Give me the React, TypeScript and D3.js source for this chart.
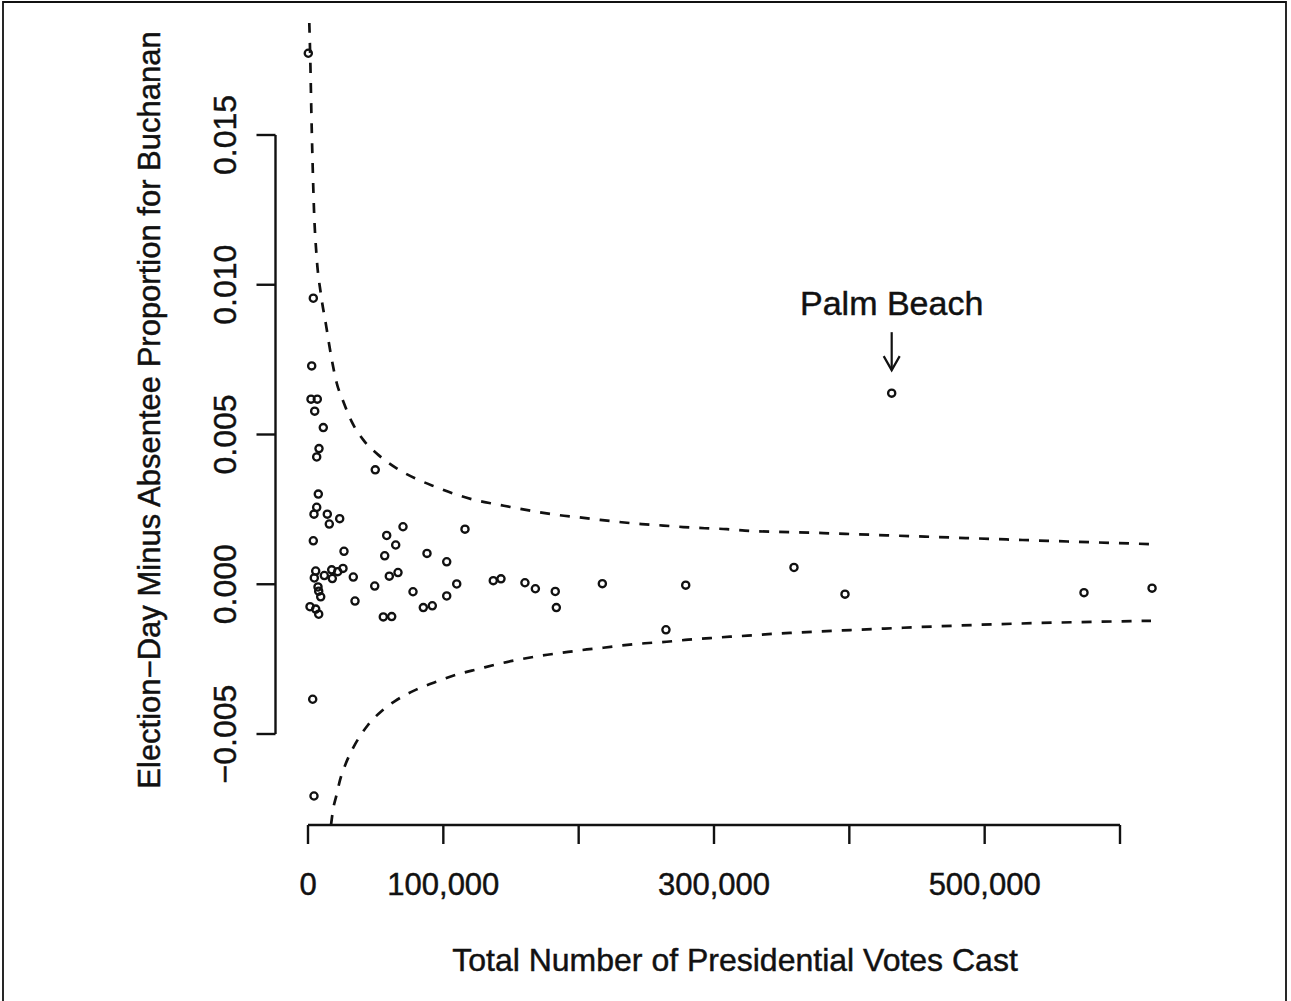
import React from "react";
import * as d3 from "d3";

// County totals (votes cast) and election-day minus absentee proportion for Buchanan
const votes: number[] = [
  220, 3920, 2730, 2220, 6870, 4950, 11300, 8130, 6430, 49700,
  7610, 6430, 4430, 14260, 15740, 23420, 70200, 116000, 3920, 58150,
  64800, 26600, 56680, 87930, 102500, 5690, 4660, 12050, 17510, 17960,
  21950, 25860, 33470, 60080, 66500, 136900, 142600, 49300, 7390, 7910,
  9390, 34730, 77590, 109900, 102500, 1480, 5690, 7910, 55640, 61850,
  85200, 91850, 160300, 168000, 182700, 183500, 217500, 264500, 279100, 359100,
  396800, 431300, 573400, 623700, 3470, 4430,
];
const propDiff: number[] = [
  0.01773, 0.00955, 0.00729, 0.00618, 0.00618, 0.00578, 0.00523, 0.00453, 0.00425, 0.00382,
  0.00301, 0.00257, 0.00234, 0.00234, 0.00201, 0.00219, 0.00192, 0.00184, 0.00145, 0.00163,
  0.00131, 0.0011, 0.00095, 0.00103, 0.00075, 0.00044, 0.00021, 0.00029, 0.00048, 0.00019,
  0.00042, 0.00053, 0.00024, 0.00027, 0.00039, 0.00012, 0.00018, -0.00006, -0.00009, -0.00023,
  -0.00042, -0.00056, -0.00025, 0.00001, -0.00039, -0.00075, -0.00083, -0.001, -0.00109, -0.00108,
  -0.00078, -0.00072, 0.00005, -0.00015, -0.00024, -0.00078, 0.00002, -0.00152, -0.00003, 0.00056,
  -0.00033, 0.00638, -0.00028, -0.00013, -0.00384, -0.00707,
];

// Dashed bands
const upperVotes: number[] = [
  960, 1700, 2440, 3330, 4430, 6280, 9610, 13300, 17360, 21210,
  26080, 32290, 40860, 51950, 65540, 79060, 93840, 108600, 123400, 139400,
  154200, 169000, 184900, 199700, 215800, 231800, 246600, 262500, 277300, 293300,
  309400, 322900, 372400, 455900, 539400, 622900,
];
const upperProp: number[] = [
  0.01874, 0.0175, 0.01584, 0.01417, 0.0125, 0.01099, 0.00966, 0.00866, 0.00755, 0.00672,
  0.0061, 0.00543, 0.00482, 0.00432, 0.00387, 0.00354, 0.00326, 0.00301, 0.00281, 0.00267,
  0.00254, 0.00242, 0.00231, 0.00224, 0.00215, 0.00207, 0.00201, 0.00196, 0.00191, 0.00187,
  0.00184, 0.00179, 0.00172, 0.00159, 0.00146, 0.00134,
];
const lowerVotes: number[] = [
  17000, 18470, 21060, 23650, 28080, 33250, 38420, 44330, 54460, 64280,
  80320, 96280, 111100, 125800, 140600, 156600, 171400, 187500, 202200, 218200,
  234200, 249000, 265000, 281000, 297000, 311800, 327900, 342600, 358600, 400700,
  511900, 622900,
];
const lowerProp: number[] = [
  -0.00804, -0.00754, -0.00704, -0.00654, -0.00597, -0.00547, -0.00507, -0.0047, -0.00423, -0.0039,
  -0.00351, -0.00323, -0.003, -0.00283, -0.00266, -0.00251, -0.00239, -0.00229, -0.0022, -0.00212,
  -0.00203, -0.00197, -0.00192, -0.00185, -0.0018, -0.00175, -0.00171, -0.00166, -0.00162, -0.00153,
  -0.00133, -0.00122,
];

const xTicks: number[] = [0, 100000, 200000, 300000, 400000, 500000, 600000];
const xTickLabels: string[] = ["0", "100,000", "", "300,000", "", "500,000", ""];
const yTicks: number[] = [-0.005, 0, 0.005, 0.01, 0.015];
const yTickLabels: string[] = ["\u22120.005", "0.000", "0.005", "0.010", "0.015"];

const xTitle = "Total Number of Presidential Votes Cast";
const yTitle = "Election\u2212Day Minus Absentee Proportion for Buchanan";
const annotationLabel = "Palm Beach";
const annotationIndex = 61;

const W = 1291;
const H = 1001;
const FONT = "'Liberation Sans', Arial, Helvetica, sans-serif";
const INK = "#111";

export default function App() {
  const x = d3.scaleLinear().domain([0, 600000]).range([308, 1120]);
  const y = d3.scaleLinear().domain([-0.005, 0.015]).range([734, 135]);
  const plotLeft = 275.5;
  const plotRight = 1187;
  const plotTop = 23;
  const plotBottom = 825;

  const line = d3
    .line<[number, number]>()
    .x((d) => x(d[0]))
    .y((d) => y(d[1]))
    .curve(d3.curveMonotoneX);

  const upper = line(upperVotes.map((v, i) => [v, upperProp[i]] as [number, number])) || "";
  const lower = line(lowerVotes.map((v, i) => [v, lowerProp[i]] as [number, number])) || "";

  const ax = x(votes[annotationIndex]);
  const ay = y(propDiff[annotationIndex]);

  const tickLen = 19;
  const axisW = 2.4;
  const textStroke = { stroke: INK, strokeWidth: 0.45 };

  return (
    <svg
      width={W}
      height={H}
      viewBox={`0 0 ${W} ${H}`}
      style={{ position: "absolute", left: 0, top: 0, background: "#fff" }}
      fontFamily={FONT}
    >
      <rect x={0} y={0} width={W} height={H} fill="#fff" />
      {/* frame */}
      <path d={`M3,1012 L3,2 L1286,2 L1286,1012`} fill="none" stroke={INK} strokeWidth={1.8} />

      <defs>
        <clipPath id="plotClip">
          <rect x={plotLeft} y={plotTop} width={plotRight - plotLeft} height={plotBottom - plotTop} />
        </clipPath>
      </defs>

      {/* bands */}
      <g clipPath="url(#plotClip)" fill="none" stroke={INK} strokeWidth={2.7} strokeDasharray="10 10">
        <path d={upper} />
        <path d={lower} />
      </g>

      {/* points */}
      <g fill="none" stroke={INK} strokeWidth={2.3}>
        {votes.map((v, i) => (
          <circle key={i} cx={x(v)} cy={y(propDiff[i])} r={3.6} />
        ))}
      </g>

      {/* y axis */}
      <g stroke={INK} strokeWidth={axisW} fill="none">
        <line x1={plotLeft} x2={plotLeft} y1={y(yTicks[0])} y2={y(yTicks[yTicks.length - 1])} />
        {yTicks.map((t, i) => (
          <line key={i} x1={plotLeft - tickLen} x2={plotLeft} y1={y(t)} y2={y(t)} />
        ))}
      </g>
      <g fill={INK} fontSize={32} textAnchor="middle" {...textStroke}>
        {yTicks.map((t, i) => (
          <text key={i} transform={`translate(236,${y(t)}) rotate(-90)`}>
            {yTickLabels[i]}
          </text>
        ))}
      </g>

      {/* x axis */}
      <g stroke={INK} strokeWidth={axisW} fill="none">
        <line x1={x(xTicks[0])} x2={x(xTicks[xTicks.length - 1])} y1={plotBottom} y2={plotBottom} />
        {xTicks.map((t, i) => (
          <line key={i} x1={x(t)} x2={x(t)} y1={plotBottom} y2={plotBottom + tickLen} />
        ))}
      </g>
      <g fill={INK} fontSize={31} textAnchor="middle" {...textStroke}>
        {xTicks.map((t, i) =>
          xTickLabels[i] ? (
            <text key={i} x={x(t)} y={895}>
              {xTickLabels[i]}
            </text>
          ) : null
        )}
      </g>

      {/* titles */}
      <text
        x={735}
        y={971}
        fontSize={32}
        textAnchor="middle"
        fill={INK}
        {...textStroke}
      >
        {xTitle}
      </text>
      <text
        transform={`translate(160,410) rotate(-90)`}
        fontSize={31}
        textAnchor="middle"
        fill={INK}
        {...textStroke}
      >
        {yTitle}
      </text>

      {/* annotation */}
      <text x={ax} y={ay - 78} fontSize={34} textAnchor="middle" fill={INK} {...textStroke}>
        {annotationLabel}
      </text>
      <g stroke={INK} strokeWidth={2.2} fill="none">
        <line x1={ax} x2={ax} y1={ay - 61} y2={ay - 23} />
        <path d={`M${ax - 8},${ay - 37} L${ax},${ay - 23} L${ax + 8},${ay - 37}`} />
      </g>
    </svg>
  );
}
